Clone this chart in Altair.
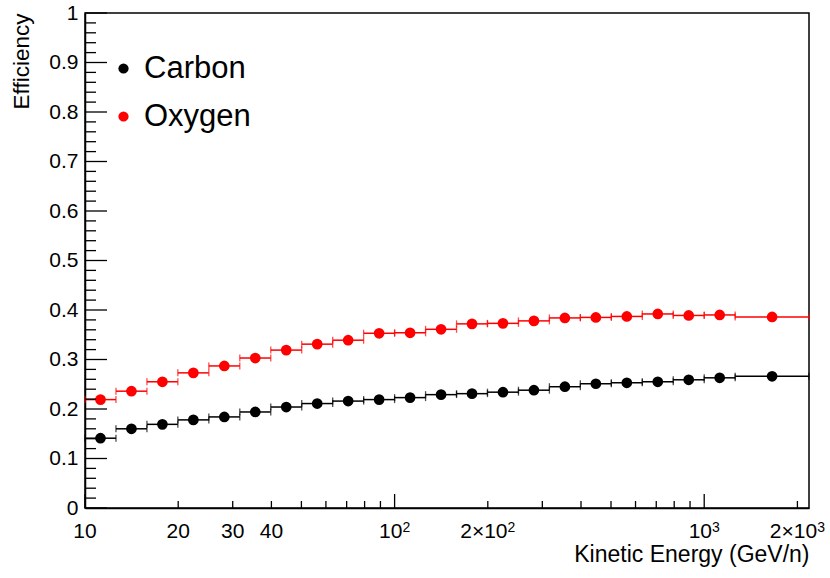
import altair as alt
import pandas as pd
import numpy as np

# ---- data ----
edges = [10.0, 12.59, 15.85, 19.95, 25.12, 31.62, 39.81, 50.12, 63.10, 79.43,
         100.0, 125.9, 158.5, 199.5, 251.2, 316.2, 398.1, 501.2, 631.0, 794.3,
         1000.0, 1259.0, 2180.0]
carbon = [0.141, 0.160, 0.169, 0.178, 0.184, 0.194, 0.204, 0.211, 0.216, 0.219,
          0.223, 0.229, 0.231, 0.234, 0.238, 0.245, 0.251, 0.253, 0.255, 0.259,
          0.263, 0.266]
oxygen = [0.219, 0.236, 0.255, 0.273, 0.287, 0.303, 0.319, 0.331, 0.339, 0.353,
          0.354, 0.361, 0.372, 0.373, 0.378, 0.384, 0.385, 0.387, 0.392, 0.389,
          0.390, 0.386]
series = ["Carbon", "Oxygen"]
colors = ["#000000", "#ff0000"]

# x tick labels: plain ones, and "mantissa x 10^exp" ones
plain_vals = [10, 20, 30, 40]
pow_vals = [100, 1000]          # shown as 10^n
pow_exp = ["2", "3"]
mpow_vals = [200, 2000]         # shown as 2x10^n
mpow_exp = ["2", "3"]

x_major = [10, 100, 1000]
x_minor = [20, 30, 40, 50, 60, 70, 80, 90, 200, 300, 400, 500, 600, 700, 800, 900, 2000]
y_major = [round(0.1 * i, 2) for i in range(11)]
y_minor = [round(0.02 * i, 2) for i in range(51) if i % 5 != 0]

rows = []
for name, vals in zip(series, [carbon, oxygen]):
    for i, v in enumerate(vals):
        lo, hi = edges[i], edges[i + 1]
        rows.append({"series": name, "lo": lo, "hi": hi,
                     "x": float(np.sqrt(lo * hi)), "y": v})
df = pd.DataFrame(rows)

FONT = "Liberation Sans"
W, H = 724, 495
LAB = 21      # tick label font size
SUP = 14      # superscript font size
BASE_Y = H + 29.7   # baseline of tick labels (px from plot top)
SUP_Y = H + 23.5    # baseline of superscripts

xscale = alt.Scale(type="log", domain=[10, 2180], nice=False)
yscale = alt.Scale(domain=[0, 1], nice=False)
cscale = alt.Scale(domain=series, range=colors)

xaxis = alt.Axis(values=x_major, labels=False, ticks=False, grid=False,
                 domain=True, domainColor="#000", domainWidth=1.5,
                 title="Kinetic Energy (GeV/n)", titleFont=FONT, titleFontSize=23,
                 titleFontWeight="normal", titleColor="#000",
                 titleAlign="right", titleAnchor="end", titleX=W, titleY=53,
                 titleBaseline="alphabetic")
yaxis = alt.Axis(values=y_major, format=".1~f", ticks=False, grid=False,
                 domain=True, domainColor="#000", domainWidth=1.5,
                 labelFont=FONT, labelFontSize=LAB, labelColor="#000",
                 labelPadding=7, labelFlush=False, labelOverlap=False, labelBound=False,
                 title="Efficiency", titleFont=FONT, titleFontSize=22.5,
                 titleFontWeight="normal", titleColor="#000",
                 titleAngle=270, titleAlign="right", titleBaseline="alphabetic",
                 titleX=-57, titleY=0)
legend = alt.Legend(title=None, orient="none", legendX=23, legendY=40,
                    symbolType="circle", symbolSize=105, symbolStrokeWidth=0,
                    symbolOpacity=1,
                    labelFont=FONT, labelFontSize=31, labelColor="#000",
                    labelOffset=5, rowPadding=16, padding=0)

X = lambda f: alt.X(f, scale=xscale, axis=xaxis)
Y = lambda f: alt.Y(f, scale=yscale, axis=yaxis)
C = alt.Color("series:N", scale=cscale, legend=legend)

base = alt.Chart(df)

bars = base.mark_rule(strokeWidth=1.5).encode(x=X("lo:Q"), x2="hi:Q", y=Y("y:Q"), color=C)
caps_lo = base.mark_tick(orient="vertical", size=7, thickness=1.3).encode(
    x=X("lo:Q"), y=Y("y:Q"), color=C)
caps_hi = base.mark_tick(orient="vertical", size=7, thickness=1.3).encode(
    x=X("hi:Q"), y=Y("y:Q"), color=C)
points = base.mark_circle(size=115, opacity=1).encode(x=X("x:Q"), y=Y("y:Q"), color=C)

xt_major = alt.Chart(pd.DataFrame({"v": x_major})).mark_rule(color="#000", strokeWidth=1.3).encode(
    x=X("v:Q"), y=alt.value(H), y2=alt.value(H - 14))
xt_minor = alt.Chart(pd.DataFrame({"v": x_minor})).mark_rule(color="#000", strokeWidth=1.3).encode(
    x=X("v:Q"), y=alt.value(H), y2=alt.value(H - 7))
yt_major = alt.Chart(pd.DataFrame({"v": y_major})).mark_rule(color="#000", strokeWidth=1.3).encode(
    y=Y("v:Q"), x=alt.value(0), x2=alt.value(22))
yt_minor = alt.Chart(pd.DataFrame({"v": y_minor})).mark_rule(color="#000", strokeWidth=1.3).encode(
    y=Y("v:Q"), x=alt.value(0), x2=alt.value(11))

# x tick labels as text marks (so exponents can be real superscripts)
def txt(vals, labels, size, align, dx, ybase):
    d = pd.DataFrame({"v": vals, "t": labels})
    return alt.Chart(d).mark_text(font=FONT, fontSize=size, color="#000", align=align,
                                  baseline="alphabetic", dx=dx).encode(
        x=X("v:Q"), y=alt.value(ybase), text="t:N")

d_pow = (2 * 0.556 * LAB - 0.556 * SUP) / 2
d_mpow = ((3 * 0.556 + 0.584) * LAB - 0.556 * SUP) / 2
lab_plain = txt(plain_vals, [str(v) for v in plain_vals], LAB, "center", 0, BASE_Y)
lab_pow = txt(pow_vals, ["10"] * len(pow_vals), LAB, "right", d_pow, BASE_Y)
sup_pow = txt(pow_vals, pow_exp, SUP, "left", d_pow, SUP_Y)
lab_mpow = txt(mpow_vals, ["2\u00d710"] * len(mpow_vals), LAB, "right", d_mpow, BASE_Y)
sup_mpow = txt(mpow_vals, mpow_exp, SUP, "left", d_mpow, SUP_Y)

chart = alt.layer(bars, caps_lo, caps_hi, points, xt_major, xt_minor, yt_major, yt_minor,
                  lab_plain, lab_pow, sup_pow, lab_mpow, sup_mpow).properties(
    width=W, height=H,
    autosize=alt.AutoSizeParams(type="none"),
    padding={"left": 85, "top": 13, "right": 21, "bottom": 70},
).configure(background="white").configure_view(stroke="#000", strokeWidth=1.5)

chart.save("out.html", embed_options={"renderer": "svg", "actions": False})
